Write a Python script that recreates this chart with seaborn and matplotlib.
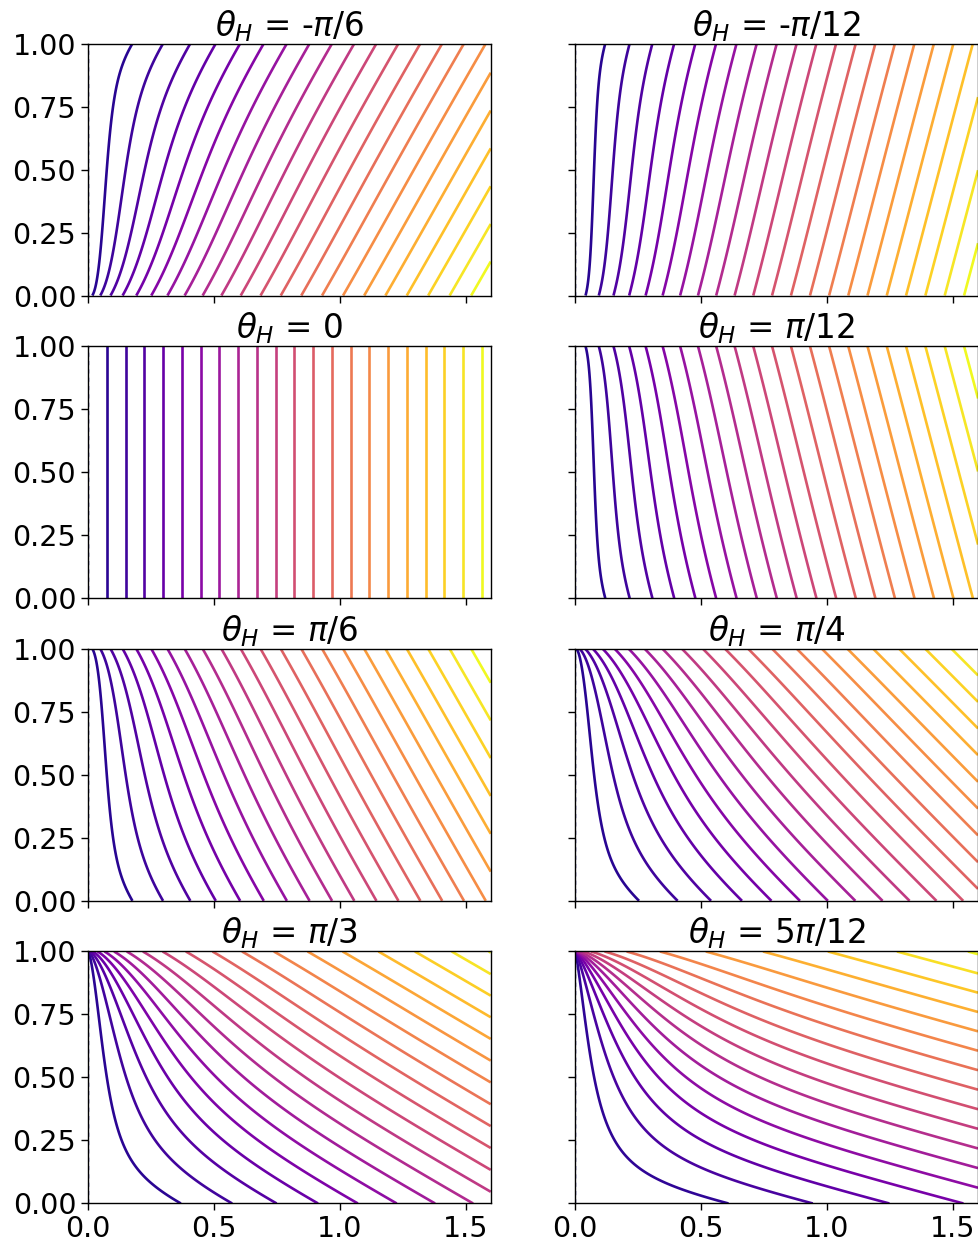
import numpy as np
import matplotlib
matplotlib.use("Agg")
import matplotlib.pyplot as plt
import seaborn as sns

# ---- chart parameters ----
theta_twelfths = [-2, -1, 0, 1, 2, 3, 4, 5]          # Hall angle in units of pi/12
titles = [r"$\theta_H$ = -$\pi$/6", r"$\theta_H$ = -$\pi$/12",
          r"$\theta_H$ = 0", r"$\theta_H$ = $\pi$/12",
          r"$\theta_H$ = $\pi$/6", r"$\theta_H$ = $\pi$/4",
          r"$\theta_H$ = $\pi$/3", r"$\theta_H$ = 5$\pi$/12"]
level_step = 0.0745                                  # potential step between contours
x_limits = [0.0, 1.6]
y_limits = [0.0, 1.0]
x_ticks = [0.0, 0.5, 1.0, 1.5]
y_ticks = [0.0, 0.25, 0.5, 0.75, 1.0]
x_ticklabels = ["0.0", "0.5", "1.0", "1.5"]
y_ticklabels = ["0.00", "0.25", "0.50", "0.75", "1.00"]

sns.set_theme(style="ticks")
plt.rcParams["font.family"] = ["DejaVu Sans"]
plt.rcParams["text.color"] = "black"
plt.rcParams["axes.titlecolor"] = "black"
cmap = sns.color_palette("plasma", as_cmap=True)


def hall_potential(theta, nx=3000, ny=401):
    """Equipotentials of a Hall strip (0<y<1) fed by an electrode at x=0."""
    p = 6.0
    s = (np.arange(nx) + 0.5) / nx
    ds = 1.0 / nx
    xm = x_limits[1] * s ** p
    jac = p * x_limits[1] * s ** (p - 1)
    y = np.linspace(y_limits[0], y_limits[1], ny)
    yc = np.clip(y, 1e-9, 1 - 1e-9)
    Z = xm[None, :] + 1j * yc[:, None]
    t = np.tanh(np.pi * Z / 2.0)
    F = np.exp(-1j * theta) * np.power(t, 2 * theta / np.pi)
    integrand = np.real(F) * jac[None, :] * ds
    phi = np.concatenate([np.zeros((ny, 1)), np.cumsum(integrand, axis=1)], axis=1)
    x = np.concatenate([[0.0], x_limits[1] * ((np.arange(nx) + 1) / nx) ** p])
    return x, y, phi


fig, axes = plt.subplots(4, 2, figsize=(9.79, 12.47), dpi=100,
                         sharex=True, sharey=True)
fig.subplots_adjust(left=0.0899, right=0.999, top=0.9651, bottom=0.0349,
                    wspace=0.21, hspace=0.201)

for ax, k, title in zip(axes.flat, theta_twelfths, titles):
    theta = k * np.pi / 12
    x, y, phi = hall_potential(theta)
    levels = np.arange(1, int(np.nanmax(phi) / level_step) + 1) * level_step
    ax.contour(x, y, phi, levels=levels, cmap=cmap, vmin=0, vmax=levels[-1],
               linewidths=1.9)
    ax.plot([0.0, 0.0], [0.0, 1.0], color=cmap(0.0), lw=1.0, ls=(0, (3, 3)))
    ax.set_xlim(*x_limits)
    ax.set_ylim(*y_limits)
    ax.set_title(title, fontsize=23.5, pad=4, color="black")
    for sp in ax.spines.values():
        sp.set_color("black")
        sp.set_linewidth(1.0)
    ax.tick_params(direction="out", length=5, width=1, colors="black",
                   labelsize=20.5)

axes[0, 0].set_xticks(x_ticks)
axes[0, 0].set_yticks(y_ticks)
axes[-1, 0].set_xticklabels(x_ticklabels)
axes[0, 0].set_yticklabels(y_ticklabels)

fig.savefig("out.png", dpi=100)
